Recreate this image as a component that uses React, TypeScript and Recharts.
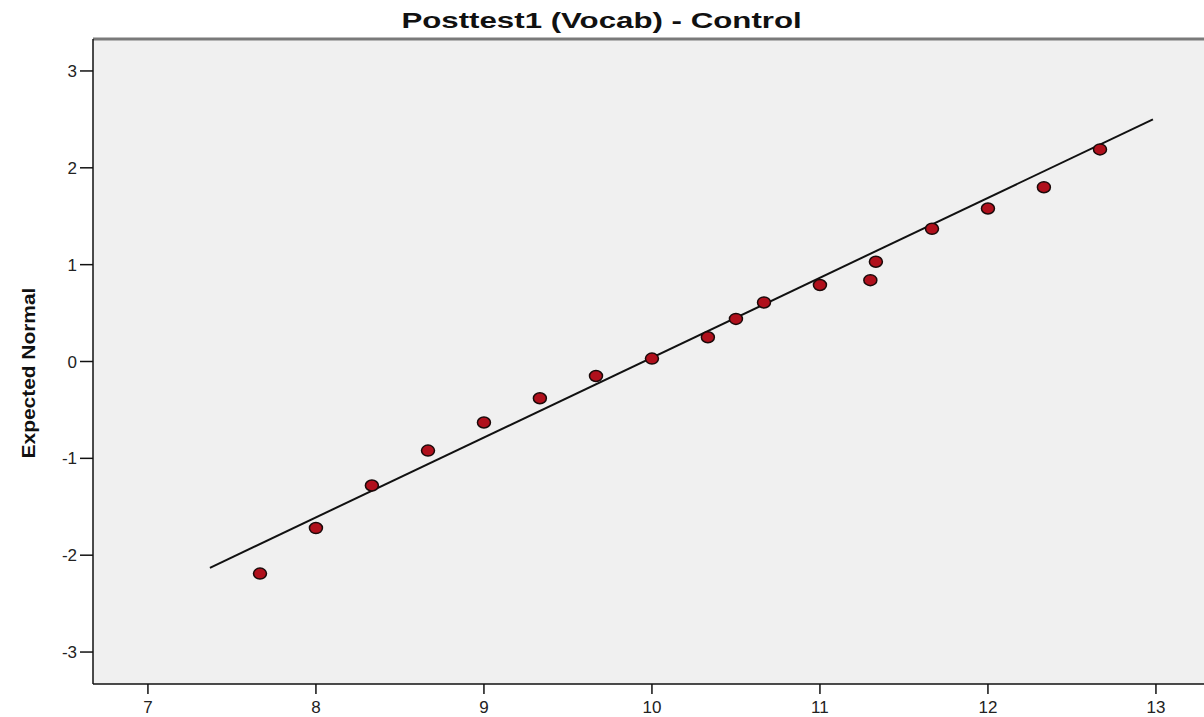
import React from 'react';
import {
  ScatterChart,
  Scatter,
  XAxis,
  YAxis,
  CartesianGrid,
  ReferenceLine,
} from 'recharts';

const observed = [7.667, 8.0, 8.333, 8.667, 9.0, 9.333, 9.667, 10.0, 10.333, 10.5, 10.667, 11.0, 11.3, 11.333, 11.667, 12.0, 12.333, 12.667];
const expected = [-2.19, -1.72, -1.28, -0.92, -0.63, -0.38, -0.15, 0.03, 0.25, 0.44, 0.61, 0.79, 0.84, 1.03, 1.37, 1.58, 1.8, 2.19];
const lineX = [7.369, 12.982];
const lineY = [-2.13, 2.5];
const xTicks = [7, 8, 9, 10, 11, 12, 13];
const yTicks = [-3, -2, -1, 0, 1, 2, 3];
const xDomain = [6.673, 13.286];
const yDomain = [-3.33, 3.33];

const FONT = '"Liberation Sans", Arial, sans-serif';

const points = observed.map((x, i) => ({ x, y: expected[i] }));

const Dot = (props: any) => {
  const { cx, cy } = props;
  return <ellipse cx={cx} cy={cy} rx={6.5} ry={5.5} fill="#b0101c" stroke="#1a0a0a" strokeWidth={1.5} />;
};

export default function App() {
  return (
    <div style={{ position: 'absolute', left: 0, top: 0, width: 1204, height: 717, background: '#fff', fontFamily: FONT }}>
      <div
        style={{
          position: 'absolute',
          top: 8,
          left: 0,
          width: 1204,
          textAlign: 'center',
          fontSize: 22,
          fontWeight: 'bold',
          color: '#111',
          lineHeight: '26px',
          transform: 'scaleX(1.42)',
          transformOrigin: '603px 0',
        }}
      >
        Posttest1 (Vocab) - Control
      </div>
      <div
        style={{
          position: 'absolute',
          left: 29,
          top: 373,
          whiteSpace: 'nowrap',
          fontSize: 19,
          fontWeight: 'bold',
          color: '#111',
          lineHeight: '20px',
          transform: 'translate(-50%, -50%) rotate(-90deg) scaleX(1.1)',
          zIndex: 1,
        }}
      >
        Expected Normal
      </div>
      <ScatterChart width={1204} height={717} margin={{ top: 39, right: 0, bottom: 0, left: 0 }}>
        <CartesianGrid fill="#f0f0f0" horizontal={false} vertical={false} />
        <XAxis
          type="number"
          dataKey="x"
          domain={xDomain}
          ticks={xTicks}
          allowDataOverflow
          height={33}
          stroke="#111"
          strokeWidth={1.5}
          tickSize={10}
          tickMargin={7}
          tick={{ fill: '#222', fontSize: 17, fontFamily: FONT }}
        />
        <YAxis
          type="number"
          dataKey="y"
          domain={yDomain}
          ticks={yTicks}
          allowDataOverflow
          width={93}
          stroke="#111"
          strokeWidth={1.5}
          tickSize={13}
          tickMargin={3}
          tick={{ fill: '#222', fontSize: 17, fontFamily: FONT }}
        />
        <ReferenceLine y={yDomain[1]} stroke="#7a7a7a" strokeWidth={3} />
        <ReferenceLine
          segment={[
            { x: lineX[0], y: lineY[0] },
            { x: lineX[1], y: lineY[1] },
          ]}
          stroke="#111"
          strokeWidth={2}
        />
        <Scatter data={points} shape={<Dot />} isAnimationActive={false} />
      </ScatterChart>
    </div>
  );
}
